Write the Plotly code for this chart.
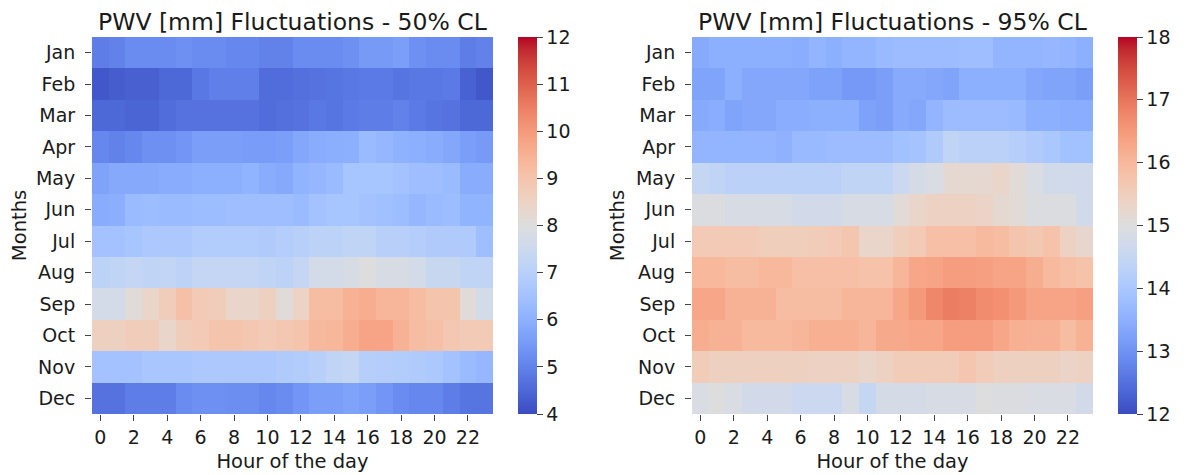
import plotly.graph_objects as go

months = ["Jan", "Feb", "Mar", "Apr", "May", "Jun",
          "Jul", "Aug", "Sep", "Oct", "Nov", "Dec"]
hours = list(range(24))

# PWV 50% CL, rows = months, cols = hours 0..23
pwv_50 = [
    [4.9, 5.0, 5.2, 5.2, 5.2, 5.3, 5.2, 5.2, 5.1, 5.1, 5.0, 5.0, 5.2, 5.2, 5.2, 5.3, 5.5, 5.5, 5.6, 5.3, 5.2, 5.2, 4.9, 5.0],
    [4.2, 4.3, 4.35, 4.35, 4.5, 4.5, 4.8, 4.95, 4.95, 4.95, 4.6, 4.6, 4.65, 4.7, 4.75, 4.8, 4.85, 4.85, 4.75, 4.8, 4.8, 4.85, 4.4, 4.2],
    [4.5, 4.5, 4.45, 4.45, 4.6, 4.7, 4.7, 4.7, 4.7, 4.7, 4.6, 4.65, 4.7, 4.8, 4.75, 4.85, 4.9, 4.9, 5.0, 4.85, 4.75, 4.7, 4.5, 4.5],
    [5.1, 5.0, 5.1, 5.3, 5.3, 5.4, 5.6, 5.6, 5.6, 5.55, 5.55, 5.6, 5.8, 5.9, 5.95, 6.0, 6.3, 6.2, 6.05, 6.0, 5.9, 5.8, 5.6, 5.5],
    [5.7, 5.85, 5.85, 5.85, 5.9, 5.9, 6.0, 6.0, 6.0, 6.1, 5.9, 5.85, 6.1, 6.2, 6.3, 6.6, 6.6, 6.6, 6.5, 6.4, 6.4, 6.3, 5.9, 5.9],
    [5.9, 5.95, 6.3, 6.35, 6.3, 6.3, 6.35, 6.35, 6.4, 6.4, 6.4, 6.4, 6.3, 6.5, 6.6, 6.6, 6.5, 6.45, 6.35, 6.2, 6.3, 6.35, 6.1, 6.1],
    [6.5, 6.5, 6.6, 6.7, 6.7, 6.7, 6.85, 6.85, 6.85, 6.85, 6.8, 6.9, 7.0, 7.1, 7.1, 7.2, 7.2, 7.0, 7.0, 6.9, 6.8, 6.8, 6.8, 6.4],
    [7.1, 7.2, 7.3, 7.2, 7.25, 7.1, 7.3, 7.3, 7.3, 7.3, 7.2, 7.1, 7.3, 7.7, 7.7, 7.8, 8.0, 7.8, 7.8, 7.7, 7.4, 7.4, 7.2, 7.2],
    [7.7, 7.7, 8.1, 8.4, 8.7, 9.1, 8.8, 8.7, 8.4, 8.4, 8.6, 8.1, 8.5, 9.2, 9.2, 9.5, 9.6, 9.4, 9.4, 9.2, 9.0, 9.0, 8.1, 7.7],
    [8.6, 8.6, 8.7, 8.7, 8.4, 8.7, 8.8, 9.0, 9.0, 8.9, 8.8, 8.9, 9.0, 9.3, 9.35, 9.6, 9.8, 9.8, 9.5, 9.2, 9.1, 8.9, 8.8, 8.8],
    [6.5, 6.5, 6.5, 6.65, 6.65, 6.65, 6.7, 6.7, 6.7, 6.7, 6.7, 6.8, 6.85, 7.0, 7.2, 7.3, 6.95, 6.9, 6.85, 6.8, 6.7, 6.5, 6.3, 6.2],
    [4.7, 4.7, 4.9, 4.9, 4.9, 5.2, 5.3, 5.3, 5.25, 5.25, 5.1, 5.2, 5.4, 5.6, 5.6, 5.7, 5.6, 5.4, 5.2, 5.1, 5.1, 4.9, 4.75, 4.75],
]

# PWV 95% CL
pwv_95 = [
    [13.4, 13.5, 13.5, 13.5, 13.5, 13.5, 13.45, 13.6, 13.5, 13.6, 13.6, 13.7, 13.75, 13.75, 13.75, 13.75, 13.8, 13.8, 13.6, 13.6, 13.6, 13.65, 13.6, 13.5],
    [13.3, 13.3, 13.5, 13.35, 13.35, 13.35, 13.35, 13.25, 13.25, 13.1, 13.1, 13.2, 13.4, 13.4, 13.35, 13.3, 13.5, 13.5, 13.5, 13.5, 13.35, 13.3, 13.3, 13.2],
    [13.4, 13.45, 13.3, 13.35, 13.35, 13.45, 13.45, 13.5, 13.5, 13.5, 13.25, 13.2, 13.4, 13.35, 13.6, 13.75, 13.75, 13.75, 13.75, 13.7, 13.5, 13.5, 13.45, 13.45],
    [13.6, 13.6, 13.6, 13.6, 13.6, 13.55, 13.7, 13.7, 13.75, 13.75, 13.75, 13.75, 13.85, 13.9, 14.1, 14.4, 14.3, 14.3, 14.3, 14.2, 14.1, 14.0, 13.85, 13.85],
    [14.5, 14.4, 14.3, 14.3, 14.3, 14.3, 14.3, 14.3, 14.3, 14.4, 14.4, 14.4, 14.6, 14.8, 14.9, 15.2, 15.2, 15.2, 15.3, 15.1, 14.9, 14.7, 14.7, 14.7],
    [14.95, 14.95, 14.85, 14.85, 14.85, 14.85, 14.75, 14.75, 14.75, 14.85, 14.85, 14.85, 15.1, 15.3, 15.4, 15.4, 15.4, 15.35, 15.2, 15.1, 14.95, 14.95, 14.95, 14.7],
    [15.6, 15.6, 15.6, 15.6, 15.5, 15.5, 15.5, 15.55, 15.6, 15.7, 15.3, 15.3, 15.5, 15.6, 15.85, 15.85, 15.85, 15.95, 15.9, 15.75, 15.65, 15.8, 15.4, 15.25],
    [16.0, 16.0, 15.9, 15.9, 16.0, 16.0, 15.85, 15.85, 15.85, 15.85, 15.8, 15.8, 16.05, 16.3, 16.35, 16.45, 16.45, 16.4, 16.35, 16.35, 16.2, 15.95, 15.85, 15.8],
    [16.3, 16.3, 16.1, 16.1, 16.1, 15.9, 15.9, 15.9, 15.9, 16.05, 16.05, 16.05, 16.3, 16.5, 16.75, 16.9, 16.85, 16.7, 16.65, 16.5, 16.35, 16.35, 16.35, 16.4],
    [16.2, 16.1, 16.1, 15.95, 15.95, 15.95, 16.05, 16.15, 16.15, 16.15, 16.05, 16.25, 16.25, 16.3, 16.3, 16.45, 16.45, 16.45, 16.3, 16.15, 16.1, 16.1, 15.9, 16.1],
    [15.55, 15.45, 15.45, 15.45, 15.45, 15.45, 15.45, 15.4, 15.4, 15.4, 15.3, 15.4, 15.55, 15.55, 15.55, 15.55, 15.7, 15.55, 15.45, 15.45, 15.45, 15.45, 15.35, 15.4],
    [14.9, 15.0, 14.9, 14.75, 14.75, 14.75, 14.6, 14.6, 14.6, 14.85, 14.5, 14.8, 14.8, 14.8, 14.85, 14.85, 14.85, 15.0, 14.95, 14.95, 14.9, 14.9, 14.9, 14.75],
]

# matplotlib coolwarm
coolwarm_rgb = [
    (59, 76, 192), (68, 90, 204), (77, 104, 215), (87, 117, 225),
    (98, 130, 234), (108, 142, 241), (119, 154, 247), (130, 165, 251),
    (141, 176, 254), (152, 185, 255), (163, 194, 255), (174, 201, 253),
    (184, 208, 249), (194, 213, 244), (204, 217, 238), (213, 219, 230),
    (221, 221, 221), (229, 216, 209), (236, 211, 197), (241, 204, 184),
    (245, 196, 173), (247, 187, 160), (247, 177, 148), (247, 166, 135),
    (244, 154, 123), (241, 141, 111), (236, 127, 99), (229, 112, 88),
    (222, 96, 77), (213, 80, 66), (203, 62, 56), (192, 40, 47),
    (180, 4, 38),
]
n = len(coolwarm_rgb) - 1
coolwarm = [[i / n, "rgb(%d,%d,%d)" % c] for i, c in enumerate(coolwarm_rgb)]

tick_font = dict(family="DejaVu Sans", size=19, color="#1a1a1a")
label_font = dict(family="DejaVu Sans", size=19.5, color="#1a1a1a")
title_font = dict(family="DejaVu Sans", size=23.5, color="#1a1a1a")

# page body has an 8px margin, so the figure is drawn 8px in from the corner
OFF = 8
W, H = 1188 - OFF, 475 - OFF
ML, MT = 92 - OFF, 37 - OFF
MR, MB = 60, H - (414 - OFF)
PW = W - ML - MR
PH = H - MT - MB

cb_common = dict(thickness=19, len=1, lenmode="fraction", y=0, yanchor="bottom",
                 xanchor="left", xpad=0, ypad=0, outlinewidth=0,
                 ticks="outside", ticklen=6, tickfont=tick_font, tickprefix=" ")

fig = go.Figure()
fig.add_trace(go.Heatmap(
    z=pwv_50, x=hours, y=months, colorscale=coolwarm, zmin=4, zmax=12,
    xaxis="x", yaxis="y",
    colorbar=dict(x=(518 - 92) / PW, tickvals=list(range(4, 13)), **cb_common),
))
fig.add_trace(go.Heatmap(
    z=pwv_95, x=hours, y=months, colorscale=coolwarm, zmin=12, zmax=18,
    xaxis="x2", yaxis="y2",
    colorbar=dict(x=(1118 - 92) / PW, tickvals=list(range(12, 19)), **cb_common),
))

xcommon = dict(tickvals=list(range(0, 24, 2)), ticks="outside", ticklen=6,
               tickfont=tick_font, showgrid=False, zeroline=False, showline=False,
               automargin=False, range=[-0.5, 23.5],
               title=dict(text="Hour of the day", font=label_font, standoff=7))
ycommon = dict(autorange="reversed", ticks="outside", ticklen=6, tickfont=tick_font,
               ticklabelstandoff=6,
               showgrid=False, zeroline=False, showline=False, automargin=False,
               title=dict(text="Months", font=label_font, standoff=6))

fig.update_layout(
    width=W, height=H,
    margin=dict(l=ML, r=MR, t=MT, b=MB),
    paper_bgcolor="white", plot_bgcolor="white",
    font=tick_font,
    xaxis=dict(domain=[0, 401 / PW], anchor="y", **xcommon),
    yaxis=dict(anchor="x", domain=[0, 1], **ycommon),
    xaxis2=dict(domain=[600 / PW, 1001 / PW], anchor="y2", **xcommon),
    yaxis2=dict(anchor="x2", domain=[0, 1], **ycommon),
    annotations=[
        dict(text="PWV [mm] Fluctuations - 50% CL", x=0.5, y=1 + 15 / PH,
             xref="x domain", yref="paper", xanchor="center", yanchor="middle",
             showarrow=False, font=title_font),
        dict(text="PWV [mm] Fluctuations - 95% CL", x=0.5, y=1 + 15 / PH,
             xref="x2 domain", yref="paper", xanchor="center", yanchor="middle",
             showarrow=False, font=title_font),
    ],
)

fig.write_html("out.html")
